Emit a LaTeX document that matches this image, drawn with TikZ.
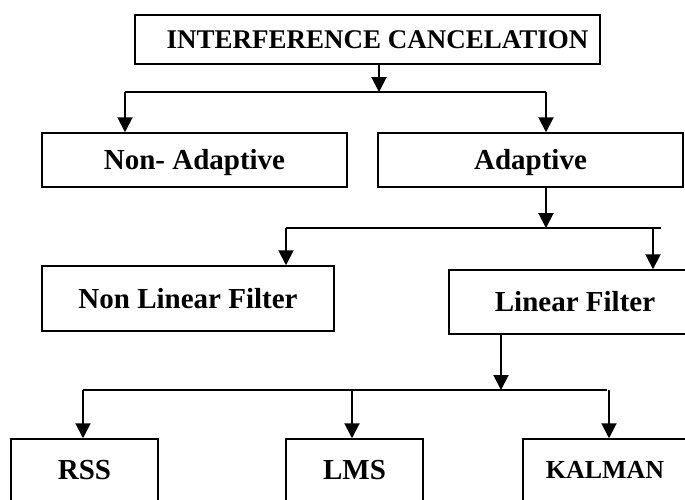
\documentclass[tikz,border=0pt]{standalone}
\usepackage{fontspec}
\setmainfont{Liberation Serif}
\usetikzlibrary{arrows.meta}
\begin{document}
\begin{tikzpicture}[x=1pt,y=-1pt,
  box/.style={draw, line width=1.5pt, inner sep=0pt, text height=19pt, text depth=0pt, font=\bfseries\fontsize{29}{34}\selectfont},
  conn/.style={line width=1.6pt},
  arr/.style={line width=2pt, -{Triangle[width=15pt,length=15pt]}}]
\useasboundingbox (0,0) rectangle (685,499);
\clip (0,0) rectangle (685,499);
% boxes
\node[box, font=\bfseries\fontsize{27}{32}\selectfont, text height=18pt, minimum width=465pt, minimum height=49pt] (title) at (367.5,39.5) {\hspace*{20pt}INTERFERENCE CANCELATION};
\node[box, minimum width=305pt, minimum height=54pt] (nonad) at (194.5,160) {Non- Adaptive};
\node[box, minimum width=305pt, minimum height=54pt] (adapt) at (530.5,160) {Adaptive};
\node[box, minimum width=292pt, minimum height=65pt] (nlf) at (188,298.5) {Non Linear Filter};
\node[box, minimum width=252pt, minimum height=64pt] (lf) at (575,302) {Linear Filter};
\node[box, minimum width=147pt, minimum height=62pt] (rss) at (84.5,470) {RSS};
\node[box, minimum width=137pt, minimum height=62pt] (lms) at (354.5,470) {LMS};
\node[box, font=\bfseries\fontsize{26}{31}\selectfont, text height=17pt, minimum width=164pt, minimum height=62pt] (kalman) at (605,470) {KALMAN};
% level 1
\coordinate (j1) at (379,92);
\coordinate (l1) at (125,92);
\coordinate (r1) at (546,92);
\draw[arr] (title.south -| j1) -- (j1);
\draw[conn] (l1) -- (r1);
\draw[arr] (l1) -- (nonad.north -| l1);
\draw[arr] (r1) -- (adapt.north -| r1);
% level 2
\coordinate (j2) at (546,228);
\coordinate (l2) at (286,228);
\coordinate (r2) at (661,228);
\coordinate (r2a) at (653,228);
\draw[arr] (adapt.south -| j2) -- (j2);
\draw[conn] (l2) -- (r2);
\draw[arr] (l2) -- (nlf.north -| l2);
\draw[arr] (r2a) -- (lf.north -| r2a);
% level 3
\coordinate (j3) at (501,390);
\coordinate (l3) at (83,390);
\coordinate (m3) at (352,390);
\coordinate (r3) at (607,390);
\coordinate (r3a) at (609,390);
\draw[arr] (lf.south -| j3) -- (j3);
\draw[conn] (l3) -- (r3);
\draw[arr] (l3) -- (rss.north -| l3);
\draw[arr] (m3) -- (lms.north -| m3);
\draw[arr] (r3a) -- (kalman.north -| r3a);
\end{tikzpicture}
\end{document}
